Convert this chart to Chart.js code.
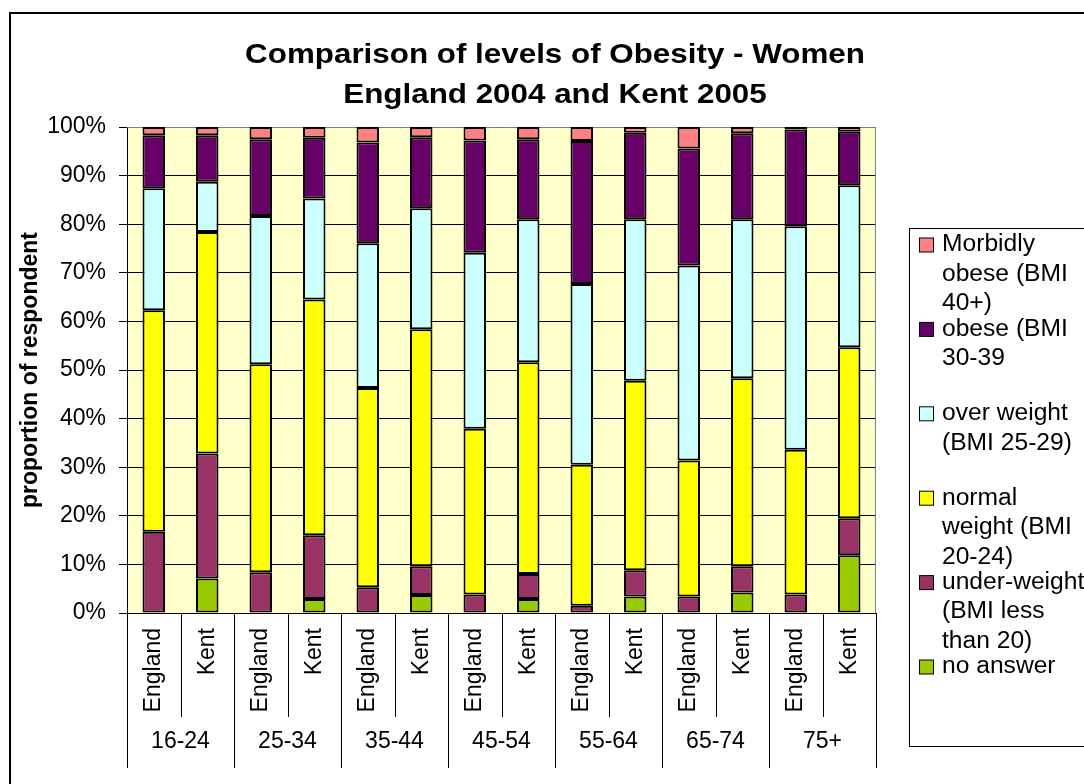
<!DOCTYPE html>
<html>
<head>
<meta charset="utf-8">
<title>Comparison of levels of Obesity - Women</title>
<script src="https://cdn.jsdelivr.net/npm/chart.js@4.4.1/dist/chart.umd.min.js"></script>
<style>
  html, body { margin: 0; padding: 0; background: #ffffff; }
  #wrap { width: 1084px; height: 784px; position: relative; }
  canvas { display: block; }
</style>
</head>
<body>
<div id="wrap"><canvas id="chart" width="1084" height="784"></canvas></div>
<script>
// Survey areas per bar, grouped in pairs by age band
const areas = ['England', 'Kent', 'England', 'Kent', 'England', 'Kent', 'England', 'Kent',
               'England', 'Kent', 'England', 'Kent', 'England', 'Kent'];
const ageGroups = ['16-24', '25-34', '35-44', '45-54', '55-64', '65-74', '75+'];

// Percentage of respondents in each BMI band (one value per bar)
const noAnswer      = [0, 7.1, 0, 2.9, 0, 3.7, 0, 2.9, 0, 3.4, 0, 4.2, 0, 11.9];
const underWeight   = [16.7, 25.7, 8.4, 13.1, 5.3, 5.9, 3.8, 5.1, 1.5, 5.4, 3.4, 5.4, 3.8, 7.6];
const normalWeight  = [45.6, 45.6, 42.8, 48.5, 41.0, 48.8, 34.1, 43.6, 29.0, 39.0, 28.0, 38.7, 29.8, 35.2];
const overWeight    = [25.1, 10.35, 30.5, 20.8, 29.8, 24.9, 36.2, 29.4, 37.2, 33.2, 40.1, 32.7, 46.0, 33.3];
const obese         = [10.9, 9.55, 15.8, 12.5, 20.7, 14.6, 23.1, 16.5, 29.4, 17.8, 24.1, 17.7, 19.9, 11.0];
const morbidlyObese = [1.7, 1.7, 2.5, 2.2, 3.2, 2.1, 2.8, 2.5, 2.9, 1.2, 4.4, 1.3, 0.5, 1.0];

// Series names, split into the lines shown in the legend
const seriesLabels = [
  ['no answer'],
  ['under-weight', '(BMI less', 'than 20)'],
  ['normal', 'weight (BMI', '20-24)'],
  ['over weight', '(BMI 25-29)'],
  ['obese (BMI', '30-39'],
  ['Morbidly', 'obese (BMI', '40+)']
];
const seriesData = [noAnswer, underWeight, normalWeight, overWeight, obese, morbidlyObese];
const seriesColors = ['#99CC00', '#993366', '#FFFF00', '#CCFFFF', '#660066', '#FF8080'];

const yTicks = [0, 10, 20, 30, 40, 50, 60, 70, 80, 90, 100];
const titleLines = ['Comparison of levels of Obesity - Women', 'England 2004 and Kent 2005'];
const yAxisTitle = 'proportion of respondent';

const FONT = '"Liberation Sans", Arial, Helvetica, sans-serif';

function wideText(ctx, text, x, y, sx, align) {
  ctx.save();
  ctx.translate(x, y);
  ctx.scale(sx, 1);
  ctx.textAlign = align;
  ctx.fillText(text, 0, 0);
  ctx.restore();
}

const decorations = {
  id: 'decorations',
  beforeDraw(chart) {
    const { ctx, chartArea: a } = chart;
    ctx.save();
    ctx.fillStyle = '#ffffff';
    ctx.fillRect(0, 0, chart.width, chart.height);
    // outer frame
    ctx.strokeStyle = '#000000';
    ctx.lineWidth = 2;
    ctx.strokeRect(10, 13, 1090, 790);
    // plot background
    ctx.fillStyle = '#FFFFCC';
    ctx.fillRect(a.left, a.top, a.right - a.left, a.bottom - a.top);
    ctx.restore();
  },
  beforeDatasetsDraw(chart) {
    const { ctx, chartArea: a } = chart;
    ctx.save();
    ctx.strokeStyle = '#808080';
    ctx.lineWidth = 1;
    ctx.beginPath();
    ctx.moveTo(a.left, a.top + 0.5);
    ctx.lineTo(a.right - 0.5, a.top + 0.5);
    ctx.lineTo(a.right - 0.5, a.bottom);
    ctx.stroke();
    ctx.restore();
  },
  afterDraw(chart) {
    const { ctx, chartArea: a } = chart;
    const xs = chart.scales.x;
    const half = (xs.getPixelForValue(1) - xs.getPixelForValue(0)) / 2;
    ctx.save();
    // category separators below the axis
    ctx.strokeStyle = '#000000';
    ctx.lineWidth = 1;
    for (let i = 0; i <= areas.length; i++) {
      const x = Math.round(xs.getPixelForValue(0) - half + i * 2 * half) + 0.5;
      const yEnd = (i % 2 === 0) ? a.bottom + 155 : a.bottom + 104;
      ctx.beginPath();
      ctx.moveTo(x, a.bottom);
      ctx.lineTo(x, yEnd);
      ctx.stroke();
    }
    // age band labels
    ctx.fillStyle = '#000000';
    ctx.font = '23px ' + FONT;
    ctx.textBaseline = 'middle';
    ageGroups.forEach((g, k) => {
      const cx = (xs.getPixelForValue(2 * k) + xs.getPixelForValue(2 * k + 1)) / 2;
      wideText(ctx, g, cx, a.bottom + 129, 1.0, 'center');
    });
    // title
    ctx.font = 'bold 28px ' + FONT;
    ctx.textBaseline = 'alphabetic';
    wideText(ctx, titleLines[0], 555, 63, 1.12, 'center');
    wideText(ctx, titleLines[1], 555, 103, 1.12, 'center');
    // legend
    ctx.lineWidth = 1;
    ctx.strokeStyle = '#000000';
    ctx.strokeRect(909.5, 228.5, 200, 518);
    ctx.font = '23px ' + FONT;
    ctx.textBaseline = 'middle';
    const order = seriesLabels.map((_, i) => i).reverse();
    order.forEach((si, k) => {
      const y0 = 245 + k * 84.4;
      ctx.fillStyle = seriesColors[si];
      ctx.fillRect(919.5, y0 - 7, 14, 14);
      ctx.strokeRect(919.5, y0 - 7, 14, 14);
      ctx.fillStyle = '#000000';
      seriesLabels[si].forEach((line, j) => {
        wideText(ctx, line, 942, y0 + j * 29.5, 1.07, 'left');
      });
    });
    ctx.restore();
  }
};

new Chart(document.getElementById('chart'), {
  type: 'bar',
  data: {
    labels: areas,
    datasets: seriesData.map((d, i) => ({
      label: seriesLabels[i].join(' '),
      data: d,
      backgroundColor: seriesColors[i],
      borderColor: '#000000',
      borderWidth: (c) => (c.raw ? 2 : 0),
      borderSkipped: false,
      barPercentage: 0.42,
      categoryPercentage: 1.0
    }))
  },
  options: {
    responsive: false,
    animation: false,
    devicePixelRatio: 1,
    layout: { padding: { left: 0, top: 127, right: 208, bottom: 0 } },
    plugins: {
      legend: { display: false },
      title: { display: false },
      tooltip: { enabled: false }
    },
    scales: {
      x: {
        stacked: true,
        grid: { display: false, drawTicks: false },
        border: { display: true, color: '#000000', width: 1 },
        ticks: {
          autoSkip: false,
          minRotation: 90,
          maxRotation: 90,
          padding: 15,
          color: '#000000',
          font: { family: FONT, size: 23 }
        },
        afterFit(scale) { scale.height = 171; }
      },
      y: {
        stacked: true,
        min: 0,
        max: 100,
        afterBuildTicks(scale) { scale.ticks = yTicks.map(v => ({ value: v })); },
        grid: { color: '#000000', lineWidth: 1, drawTicks: true, tickLength: 8 },
        border: { display: true, color: '#000000', width: 1 },
        ticks: {
          padding: 13,
          color: '#000000',
          font: { family: FONT, size: 23 },
          callback: (v) => v + '%'
        },
        title: {
          display: true,
          text: yAxisTitle,
          color: '#000000',
          font: { family: FONT, size: 23, weight: 'bold' },
          padding: { top: 17, bottom: 0 }
        },
        afterFit(scale) { scale.width = 127; }
      }
    }
  },
  plugins: [decorations]
});
</script>
</body>
</html>
